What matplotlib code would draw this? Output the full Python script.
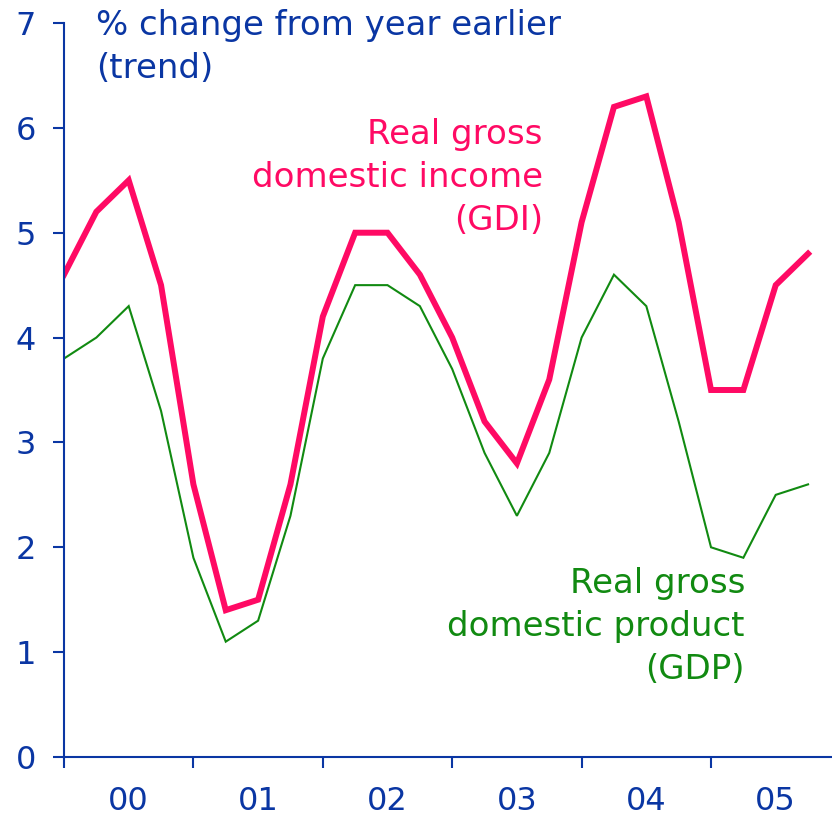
import matplotlib
matplotlib.use("Agg")
import matplotlib.pyplot as plt

quarters = list(range(24))
gdi = [4.6, 5.2, 5.5, 4.5, 2.6, 1.4, 1.5, 2.6, 4.2, 5.0, 5.0, 4.6,
       4.0, 3.2, 2.8, 3.6, 5.1, 6.2, 6.3, 5.1, 3.5, 3.5, 4.5, 4.8]
gdp = [3.8, 4.0, 4.3, 3.3, 1.9, 1.1, 1.3, 2.3, 3.8, 4.5, 4.5, 4.3,
       3.7, 2.9, 2.3, 2.9, 4.0, 4.6, 4.3, 3.2, 2.0, 1.9, 2.5, 2.6]
year_labels = ["00", "01", "02", "03", "04", "05"]

blue = "#0a36a3"
pink = "#ff0a64"
green = "#118a11"

plt.rcParams["font.family"] = ["DejaVu Sans"]

fig = plt.figure(figsize=(8.32, 8.21), dpi=100)
ax = fig.add_axes([64 / 832, 64 / 821, 768 / 832, 734 / 821])

ax.plot(quarters, gdp, color=green, lw=1.5, solid_joinstyle="miter")
ax.plot(quarters, gdi, color=pink, lw=4.3, solid_joinstyle="miter")

ax.set_xlim(0, 23.74)
ax.set_ylim(0, 7)

for side in ("top", "right"):
    ax.spines[side].set_visible(False)
for side in ("left", "bottom"):
    ax.spines[side].set_color(blue)
    ax.spines[side].set_linewidth(1.5)

ax.set_yticks(range(8))
ax.tick_params(axis="y", colors=blue, labelsize=23, length=8, width=1.5,
               pad=12)

# year boundaries as major ticks, year names centred as minor labels
ax.set_xticks(range(0, 24, 4))
ax.set_xticklabels([])
ax.set_xticks([q + 2 for q in range(0, 24, 4)], minor=True)
ax.set_xticklabels(year_labels, minor=True)
ax.tick_params(axis="x", which="major", colors=blue, length=8, width=1.5)
ax.tick_params(axis="x", which="minor", colors=blue, labelsize=23,
               length=0, pad=21)

ax.text(1.0, 7.13, "% change from year earlier\n(trend)", color=blue,
        fontsize=24.5, va="top", ha="left", linespacing=1.38)
ax.text(14.8, 6.09, "Real gross\ndomestic income\n(GDI)", color=pink,
        fontsize=24.5, va="top", ha="right", linespacing=1.38,
        multialignment="right")
ax.text(21.05, 1.81, "Real gross\ndomestic product\n(GDP)", color=green,
        fontsize=24.5, va="top", ha="right", linespacing=1.38,
        multialignment="right")

fig.savefig("out.png", dpi=100)
